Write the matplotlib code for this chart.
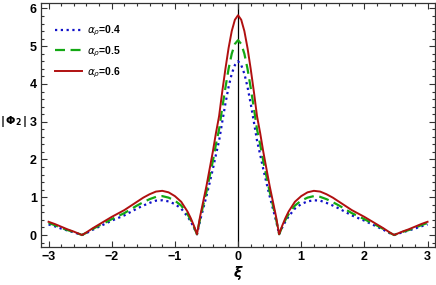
import matplotlib
matplotlib.use("Agg")
import matplotlib.pyplot as plt
from matplotlib.ticker import MultipleLocator

plt.rcParams['font.family'] = ['Liberation Sans', 'DejaVu Sans']
plt.rcParams['mathtext.fontset'] = 'dejavusans'

xi = [-3.0, -2.9, -2.8, -2.7, -2.6, -2.47, -2.4, -2.3, -2.2, -2.1, -2.0,
      -1.9, -1.8, -1.7, -1.6, -1.5, -1.4, -1.3, -1.2, -1.1, -1.0, -0.9,
      -0.8, -0.75, -0.7, -0.65, -0.6, -0.55, -0.5, -0.45, -0.4, -0.35,
      -0.3, -0.25, -0.2, -0.15, -0.1, -0.05, 0.0,
      0.05, 0.1, 0.15, 0.2, 0.25, 0.3, 0.35, 0.4, 0.45, 0.5, 0.55, 0.6,
      0.65, 0.7, 0.75, 0.8, 0.9, 1.0, 1.1, 1.2, 1.3, 1.4, 1.5, 1.6, 1.7,
      1.8, 1.9, 2.0, 2.1, 2.2, 2.3, 2.4, 2.47, 2.6, 2.7, 2.8, 2.9, 3.0]

phi_04 = [0.28, 0.23, 0.17, 0.12, 0.07, 0.0, 0.05, 0.14, 0.22, 0.30, 0.38,
          0.45, 0.52, 0.61, 0.70, 0.78, 0.85, 0.91, 0.92, 0.89, 0.82, 0.70,
          0.49, 0.36, 0.20, 0.02, 0.39, 0.71, 1.03, 1.38, 1.74, 2.13,
          2.50, 3.00, 3.48, 3.92, 4.27, 4.50, 4.60,
          4.50, 4.27, 3.92, 3.48, 3.00, 2.50, 2.13, 1.74, 1.38, 1.03, 0.71, 0.39,
          0.02, 0.20, 0.36, 0.49, 0.70, 0.82, 0.89, 0.92, 0.91, 0.85, 0.78, 0.70, 0.61,
          0.52, 0.45, 0.38, 0.30, 0.22, 0.14, 0.05, 0.0, 0.07, 0.12, 0.17, 0.23, 0.28]

phi_05 = [0.32, 0.26, 0.19, 0.13, 0.08, 0.0, 0.06, 0.16, 0.25, 0.33, 0.42,
          0.50, 0.58, 0.68, 0.78, 0.87, 0.95, 1.01, 1.03, 0.99, 0.91, 0.78,
          0.55, 0.40, 0.22, 0.02, 0.44, 0.80, 1.15, 1.55, 1.95, 2.40,
          2.80, 3.37, 3.90, 4.40, 4.80, 5.06, 5.16,
          5.06, 4.80, 4.40, 3.90, 3.37, 2.80, 2.40, 1.95, 1.55, 1.15, 0.80, 0.44,
          0.02, 0.22, 0.40, 0.55, 0.78, 0.91, 0.99, 1.03, 1.01, 0.95, 0.87, 0.78, 0.68,
          0.58, 0.50, 0.42, 0.33, 0.25, 0.16, 0.06, 0.0, 0.08, 0.13, 0.19, 0.26, 0.32]

phi_06 = [0.35, 0.29, 0.22, 0.15, 0.09, 0.0, 0.07, 0.18, 0.28, 0.38, 0.48,
          0.57, 0.66, 0.77, 0.88, 0.99, 1.08, 1.15, 1.17, 1.13, 1.03, 0.88,
          0.62, 0.45, 0.25, 0.02, 0.50, 0.90, 1.30, 1.75, 2.20, 2.70,
          3.15, 3.80, 4.40, 4.95, 5.40, 5.70, 5.82,
          5.70, 5.40, 4.95, 4.40, 3.80, 3.15, 2.70, 2.20, 1.75, 1.30, 0.90, 0.50,
          0.02, 0.25, 0.45, 0.62, 0.88, 1.03, 1.13, 1.17, 1.15, 1.08, 0.99, 0.88, 0.77,
          0.66, 0.57, 0.48, 0.38, 0.28, 0.18, 0.07, 0.0, 0.09, 0.15, 0.22, 0.29, 0.35]

labels = [r'$\alpha_\rho$=0.4', r'$\alpha_\rho$=0.5', r'$\alpha_\rho$=0.6']

fig = plt.figure(figsize=(4.36, 2.85), dpi=100)
ax = fig.add_axes([0.094, 0.133, 0.904, 0.856])

ax.axvline(0, color='black', lw=0.9, zorder=1)
ax.plot(xi, phi_04, color='#1010c8', lw=1.6, linestyle=(0, (1, 1.6)), label=labels[0], zorder=2)
ax.plot(xi, phi_05, color='#14a814', lw=1.6, linestyle=(0, (4.5, 2.5)), label=labels[1], zorder=3)
ax.plot(xi, phi_06, color='#b01010', lw=1.4, label=labels[2], zorder=4)

ax.set_xlim(-3.12, 3.12)
ax.set_ylim(-0.32, 6.14)
ax.xaxis.set_major_locator(MultipleLocator(1))
ax.xaxis.set_minor_locator(MultipleLocator(0.2))
ax.yaxis.set_major_locator(MultipleLocator(1))
ax.yaxis.set_minor_locator(MultipleLocator(0.2))
ax.tick_params(which='both', direction='in', top=True, right=True, width=0.8, color='#333333')
ax.tick_params(which='major', length=4, labelsize=9, pad=3)
ax.tick_params(which='minor', length=2)
for lab in ax.get_xticklabels() + ax.get_yticklabels():
    lab.set_fontweight('bold')
for sp in ax.spines.values():
    sp.set_linewidth(0.9)
    sp.set_color('#333333')

fig.text(0.031, 0.575, r'$\mathbf{|\,\Phi_2\,|}$', ha='center', va='center', fontsize=8)
fig.text(0.546, 0.042, r'$\boldsymbol{\xi}$', ha='center', va='center', fontsize=10)

leg = ax.legend(loc='upper left', bbox_to_anchor=(0.036, 0.915), frameon=False,
                borderpad=0, borderaxespad=0, fontsize=7.5, handlelength=2.6,
                handletextpad=0.5, labelspacing=0.6)
for t in leg.get_texts():
    t.set_fontweight('bold')

fig.savefig('out.png', dpi=100)
